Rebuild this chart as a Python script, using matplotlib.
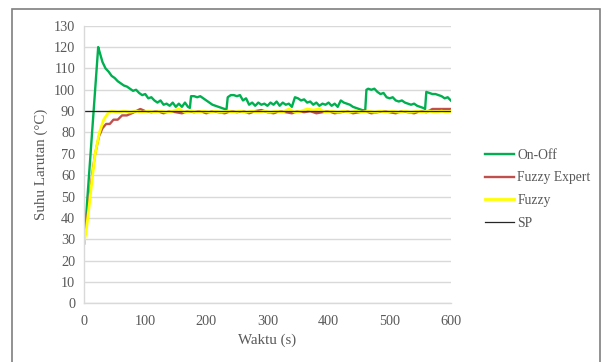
import matplotlib.pyplot as plt
from matplotlib.patches import Rectangle

# suhu larutan vs waktu untuk tiga metode kontrol
t_onoff = [0, 23, 25, 30, 35, 40, 45, 50, 55, 60, 65, 70, 75, 80, 85, 90, 95, 100,
           105, 110, 115, 120, 125, 130, 135, 140, 145, 150, 155, 160, 165, 170, 173,
           175, 180, 185, 190, 195, 200, 205, 210, 215, 220, 225, 230, 233, 235, 240,
           245, 250, 255, 260, 265, 270, 275, 280, 285, 290, 295, 300, 305, 310, 315,
           320, 325, 330, 335, 340, 345, 350, 355, 360, 365, 370, 375, 380, 385, 390,
           395, 400, 405, 410, 415, 420, 425, 430, 435, 440, 445, 450, 455, 460, 462,
           465, 470, 475, 480, 485, 490, 495, 500, 505, 510, 515, 520, 525, 530, 535,
           540, 545, 550, 555, 558, 560, 565, 570, 575, 580, 585, 590, 595, 600]
onoff = [28, 120, 118, 113, 110, 108.5, 106.5, 105.5, 104, 103, 102, 101.5, 100.5, 99.5,
         100, 98.5, 97.5, 98, 96, 96.5, 95, 94, 95, 93, 93.5, 92.5, 94, 92, 93.5, 92, 94,
         92, 91.5, 97, 97, 96.5, 97, 96, 95, 94, 93, 92.5, 92, 91.5, 91, 90.8, 96.5, 97.5,
         97.5, 97, 97.5, 95, 96, 93, 94, 92.5, 94, 93, 93.5, 92.5, 94, 93, 94.5, 92.5, 94,
         93, 93.5, 92, 96.5, 96, 95, 95.5, 94, 94.5, 93, 94, 92.5, 93.5, 93, 94, 92.5,
         93.5, 92, 95, 94, 93.5, 93, 92, 91.5, 91, 90.5, 90.3, 100, 100.5, 100, 100.5, 99,
         98, 98.5, 96.5, 96, 96.5, 95, 94.5, 95, 94, 93.5, 93, 93.5, 92.5, 92, 91.5, 91,
         99, 98.5, 98, 98, 97.5, 97, 96, 96.5, 95]

t_expert = [0, 5, 9, 13, 18, 24, 30, 36, 42, 48, 55, 62, 70, 78, 85, 92, 100, 110, 120,
            130, 140, 150, 160, 170, 180, 190, 200, 210, 220, 230, 240, 250, 260, 270,
            280, 290, 300, 310, 320, 330, 340, 350, 360, 370, 380, 390, 400, 410, 420,
            430, 440, 450, 460, 470, 480, 490, 500, 510, 520, 530, 540, 550, 560, 570,
            580, 590, 600]
expert = [31, 40, 50, 60, 70, 78, 82, 84, 84, 86, 86, 88, 88, 89, 90, 91, 90, 89.5,
          90, 89, 90, 89.5, 89, 90, 89.5, 90, 89, 90, 89.5, 89, 90, 89.5, 90, 89, 90,
          90.5, 89.5, 89, 90, 89.5, 89, 90, 89.5, 90, 89, 89.5, 90, 89, 89.5, 90, 89,
          89.5, 90, 89, 89.5, 90, 89.5, 89, 90, 89.5, 89, 90, 89.5, 91, 91, 91, 91]

t_fuzzy = [0, 3, 8, 13, 18, 25, 32, 40, 45, 55, 65, 75, 85, 95, 105, 115, 125, 135,
           145, 155, 165, 175, 185, 195, 205, 215, 225, 235, 245, 255, 265, 275, 285,
           295, 305, 315, 325, 335, 345, 355, 365, 375, 385, 395, 405, 415, 425, 435,
           445, 455, 465, 475, 485, 495, 505, 515, 525, 535, 545, 555, 565, 575, 585,
           595, 600]
fuzzy = [29, 33, 45, 58, 70, 80, 86, 89.5, 90, 89.5, 90, 89.5, 90, 89.5, 90, 89.5, 90,
         89.5, 90, 91, 89.5, 90, 89.5, 90, 89.5, 90, 89.5, 90, 89.5, 90, 89.5, 90, 89.5,
         90, 89.5, 90, 89.5, 91, 89.5, 90, 91, 90.5, 91, 89.5, 90, 89.5, 90, 89.5, 90,
         89.5, 90, 89.5, 90, 89.5, 90, 89.5, 90, 89.5, 90, 89.5, 90, 89.5, 90, 89.5, 90]

t_sp = [0, 600]
sp = [90, 90]

plt.rcParams['font.family'] = ['Liberation Serif', 'DejaVu Serif']

fig = plt.figure(figsize=(6.01, 3.62), dpi=100)
ax = fig.add_axes([0.140, 0.162, 0.610, 0.767])

ax.plot(t_onoff, onoff, color='#00b050', lw=1.7, label='On-Off')
ax.plot(t_expert, expert, color='#c0504d', lw=1.7, label='Fuzzy Expert')
ax.plot(t_fuzzy, fuzzy, color='#ffff00', lw=2.0, label='Fuzzy')
ax.plot(t_sp, sp, color='#262626', lw=0.9, label='SP')

ax.set_xlim(0, 600)
ax.set_ylim(0, 130)
ax.set_xticks(range(0, 601, 100))
ax.set_yticks(range(0, 131, 10))
ax.grid(axis='y', color='#d9d9d9', lw=1)
ax.set_axisbelow(True)
for s in ['top', 'right']:
    ax.spines[s].set_visible(False)
for s in ['left', 'bottom']:
    ax.spines[s].set_color('#d9d9d9')
    ax.spines[s].set_linewidth(1)
ax.tick_params(length=0, labelsize=10.3, colors='#595959')
ax.tick_params(axis='x', pad=8.5)
ax.tick_params(axis='y', pad=6.5)
ax.set_xlabel('Waktu (s)', fontsize=10.8, color='#595959', labelpad=4)
ax.set_ylabel('Suhu Larutan (°C)', fontsize=10.8, color='#595959', labelpad=4)

ax.legend(loc='center left', bbox_to_anchor=(0.786, 0.477), bbox_transform=fig.transFigure,
          frameon=False, fontsize=9.8, handlelength=2.15, handletextpad=0.25,
          labelspacing=0.72, labelcolor='#595959')

# bingkai luar grafik
fig.patches.append(Rectangle((12 / 601, -0.05), 0.9985 - 12 / 601, 1 - 9 / 362 + 0.05,
                             transform=fig.transFigure, fill=False,
                             edgecolor='#7f7f7f', lw=1.2))

fig.savefig('out.png', dpi=100)
